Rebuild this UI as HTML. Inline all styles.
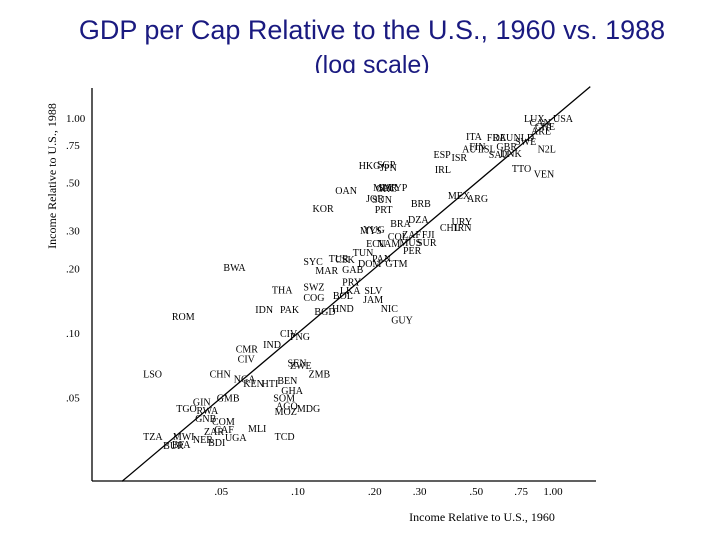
<!DOCTYPE html>
<html><head><meta charset="utf-8"><style>
html,body{margin:0;padding:0;background:#fff;}
svg{display:block;}
</style></head><body>
<svg id="chart" width="720" height="540" xmlns="http://www.w3.org/2000/svg">
<text x="372" y="39" text-anchor="middle" font-family="Liberation Sans, sans-serif" font-size="27" fill="#1a1a80">GDP per Cap Relative to the U.S., 1960 vs. 1988</text>
<text x="372" y="73" text-anchor="middle" font-family="Liberation Sans, sans-serif" font-size="25" fill="#1a1a80">(log scale)</text>
<rect x="0" y="73" width="720" height="10" fill="#fff"/>
<text transform="translate(56,176) rotate(-90)" text-anchor="middle" font-family="Liberation Serif, serif" font-size="12" fill="#000">Income Relative to U.S., 1988</text>
<text x="482" y="521" text-anchor="middle" font-family="Liberation Serif, serif" font-size="12" fill="#000">Income Relative to U.S., 1960</text>
<g id="axes"></g>
<g id="marks"></g>
</svg>
<script>
const xTicks=[0.05,0.10,0.20,0.30,0.50,0.75,1.00];
const xTickLabels=[".05",".10",".20",".30",".50",".75","1.00"];
const yTicks=[1.00,0.75,0.50,0.30,0.20,0.10,0.05];
const yTickLabels=["1.00",".75",".50",".30",".20",".10",".05"];
const codes=["LUX","USA","CAN","CHE","ARE","ITA","FRA","DEU","NLD","SWE","FIN","AUT","ISL","GBR","SAU","DNK","N2L","ESP","ISR","HKG","SGP","JPN","IRL","TTO","VEN","OAN","MLT","CYP","SYR","JOR","GRC","SUN","KOR","PRT","BRB","MEX","ARG","DZA","BRA","URY","CHL","IRN","YUG","MYS","COL","FJI","ECU","NAM","MUS","SUR","PER","TUN","SYC","TUR","CSK","DOM","PAN","GTM","GAB","MAR","THA","SWZ","PRY","LKA","SLV","COG","BOL","JAM","PAK","BGD","HND","NIC","GUY","IDN","CIV","PNG","BWA","ROM","CMR","IND","CIV","LSO","CHN","NGA","KEN","HTI","SEN","ZWE","ZMB","BEN","GHA","SOM","AGO","MOZ","MDG","GIN","GMB","TGO","RWA","GNB","COM","ZAR","CAF","UGA","MLI","TCD","TZA","MWI","NER","BDI","BUR","BFA","ZAF"];
const x1960=[0.77,1.0,0.81,0.85,0.82,0.456,0.55,0.58,0.70,0.71,0.47,0.44,0.52,0.60,0.56,0.62,0.87,0.34,0.40,0.173,0.204,0.21,0.344,0.69,0.84,0.14,0.197,0.225,0.206,0.185,0.202,0.195,0.114,0.20,0.277,0.387,0.46,0.27,0.23,0.40,0.36,0.41,0.18,0.175,0.225,0.306,0.185,0.204,0.25,0.293,0.258,0.164,0.105,0.132,0.14,0.172,0.195,0.22,0.149,0.117,0.079,0.105,0.149,0.146,0.182,0.105,0.137,0.18,0.085,0.116,0.136,0.211,0.232,0.068,0.085,0.093,0.051,0.032,0.057,0.073,0.058,0.0247,0.045,0.056,0.061,0.072,0.091,0.093,0.110,0.083,0.086,0.080,0.082,0.081,0.099,0.0387,0.048,0.0333,0.040,0.0395,0.046,0.0428,0.047,0.0517,0.0637,0.081,0.0247,0.0323,0.0387,0.0444,0.0296,0.032,0.256];
const y1988=[0.96,0.96,0.92,0.88,0.84,0.79,0.78,0.78,0.78,0.75,0.71,0.69,0.69,0.71,0.65,0.66,0.69,0.65,0.63,0.58,0.585,0.567,0.555,0.56,0.53,0.443,0.457,0.457,0.457,0.407,0.453,0.403,0.365,0.361,0.385,0.42,0.407,0.325,0.311,0.318,0.298,0.298,0.292,0.289,0.271,0.277,0.251,0.251,0.254,0.254,0.233,0.228,0.207,0.214,0.212,0.203,0.214,0.203,0.19,0.188,0.153,0.158,0.166,0.152,0.152,0.141,0.144,0.138,0.124,0.121,0.125,0.125,0.111,0.124,0.096,0.093,0.194,0.115,0.081,0.085,0.073,0.062,0.062,0.059,0.056,0.056,0.070,0.068,0.062,0.058,0.052,0.048,0.044,0.0416,0.043,0.046,0.048,0.043,0.042,0.0386,0.0373,0.0336,0.0343,0.0315,0.0347,0.0318,0.0318,0.0318,0.0308,0.0298,0.0289,0.0292,0.277];
const X0=553,XS=255,Y0=118,YS=215;
function sx(v){return X0+XS*Math.log10(v);}
function sy(v){return Y0-YS*Math.log10(v);}
const NS="http://www.w3.org/2000/svg";
const axes=document.getElementById('axes'),marks=document.getElementById('marks');
function mk(t,a,p){const e=document.createElementNS(NS,t);for(const k in a)e.setAttribute(k,a[k]);p.appendChild(e);return e;}
const yAxis=mk('line',{x1:92,y1:88,x2:92,y2:481,stroke:'#000','stroke-width':1.3},axes);


const xAxis=mk('line',{x1:92,y1:481,x2:596,y2:481,stroke:'#000','stroke-width':1.3},axes);


xTicks.forEach((v,i)=>{
  const t=mk('text',{x:sx(v),y:495,'text-anchor':'middle','font-family':'Liberation Serif, serif','font-size':11},axes);
  t.textContent=xTickLabels[i];
  
  
});
yTicks.forEach((v,i)=>{
  const t=mk('text',{x:66,y:sy(v)+4,'font-family':'Liberation Serif, serif','font-size':11},axes);
  t.textContent=yTickLabels[i];
  
  
});
const lo=0.0204,hi=1.4;
const diag=mk('line',{x1:sx(lo),y1:sy(lo),x2:sx(hi),y2:sy(hi),stroke:'#000','stroke-width':1.3},axes);


codes.forEach((c,i)=>{
  const t=mk('text',{x:sx(x1960[i]),y:sy(y1988[i]),'font-family':'Liberation Serif, serif','font-size':10},marks);
  t.textContent=c;
  
  
});
</script>
</body></html>
